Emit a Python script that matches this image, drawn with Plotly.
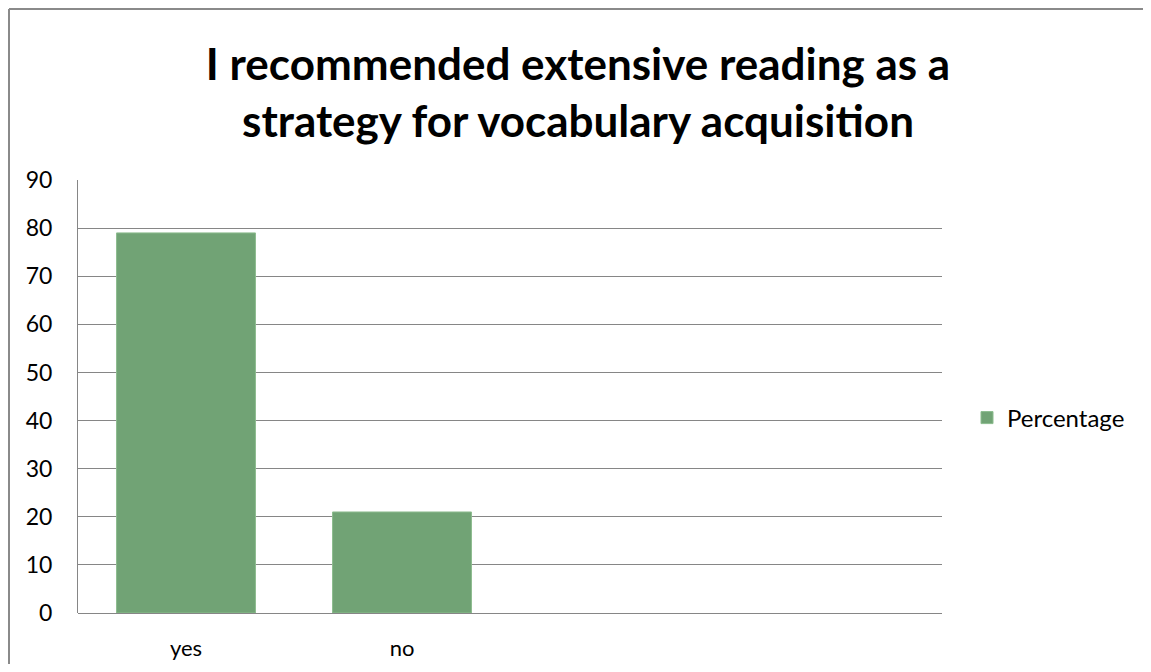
import plotly.graph_objects as go

# category slots in the original chart: two labelled, two empty
categories = ["yes", "no", " ", "  "]
percentage = [79, 21, None, None]
y_ticks = [0, 10, 20, 30, 40, 50, 60, 70, 80, 90]

TITLE = "I recommended extensive reading as a<br>strategy for vocabulary acquisition"

# the page body has an 8px margin, so work in window pixels and shift
OFF = 8
W, H = 1151 - 2 * OFF, 672 - 2 * OFF
PLOT_L, PLOT_R, PLOT_T, PLOT_B = 78, 942, 180, 613  # window pixels
L = PLOT_L - OFF
R = W - (PLOT_R - OFF)
T = PLOT_T - OFF
B = H - (PLOT_B - OFF)


def px_x(px: float) -> float:
    return (px - PLOT_L) / (PLOT_R - PLOT_L)


def px_y(py: float) -> float:
    return (PLOT_B - py) / (PLOT_B - PLOT_T)


fig = go.Figure()
fig.add_trace(
    go.Bar(
        x=categories,
        y=percentage,
        name="Percentage",
        marker={"color": "#71a375", "line": {"color": "#8cbc8e", "width": 1}},
    )
)

fig.update_layout(
    width=W,
    height=H,
    margin={"l": L, "r": R, "t": T, "b": B, "autoexpand": False},
    paper_bgcolor="white",
    plot_bgcolor="white",
    bargap=0.357,
    showlegend=True,
    font={"family": "Lato, Open Sans, sans-serif", "size": 23, "color": "#000000"},
    title={
        "text": TITLE,
        "x": (578 - OFF) / W,
        "xanchor": "center",
        "y": 1 - (80 - OFF) / H,
        "yanchor": "middle",
        "font": {"family": "Lato, Open Sans, sans-serif", "size": 44, "color": "#000000", "weight": "bold"},
    },
    legend={
        "x": px_x(967),
        "xanchor": "left",
        "y": px_y(418),
        "yanchor": "middle",
        "font": {"size": 24},
        "itemwidth": 30,
        "bgcolor": "rgba(0,0,0,0)",
    },
    xaxis={
        "type": "category",
        "categoryorder": "array",
        "categoryarray": categories,
        "automargin": False,
        "showgrid": False,
        "showline": False,
        "ticks": "",
        "ticklabelstandoff": 20,
        "tickfont": {"size": 22},
        "zeroline": False,
    },
    yaxis={
        "range": [0, 90],
        "tickvals": y_ticks,
        "automargin": False,
        "showgrid": True,
        "gridcolor": "#868686",
        "gridwidth": 1,
        "showline": True,
        "linecolor": "#868686",
        "linewidth": 1,
        "ticks": "",
        "ticklabelstandoff": 20,
        "zeroline": True,
        "zerolinecolor": "#868686",
        "zerolinewidth": 1,
    },
    shapes=[
        {
            "type": "line",
            "xref": "paper",
            "yref": "paper",
            "x0": px_x(9),
            "x1": px_x(9),
            "y0": px_y(9),
            "y1": px_y(700),
            "line": {"color": "#8a8a8a", "width": 2},
        },
        {
            "type": "line",
            "xref": "paper",
            "yref": "paper",
            "x0": px_x(9),
            "x1": px_x(1200),
            "y0": px_y(9),
            "y1": px_y(9),
            "line": {"color": "#8a8a8a", "width": 2},
        },
    ],
)

fig.write_html("out.html")
